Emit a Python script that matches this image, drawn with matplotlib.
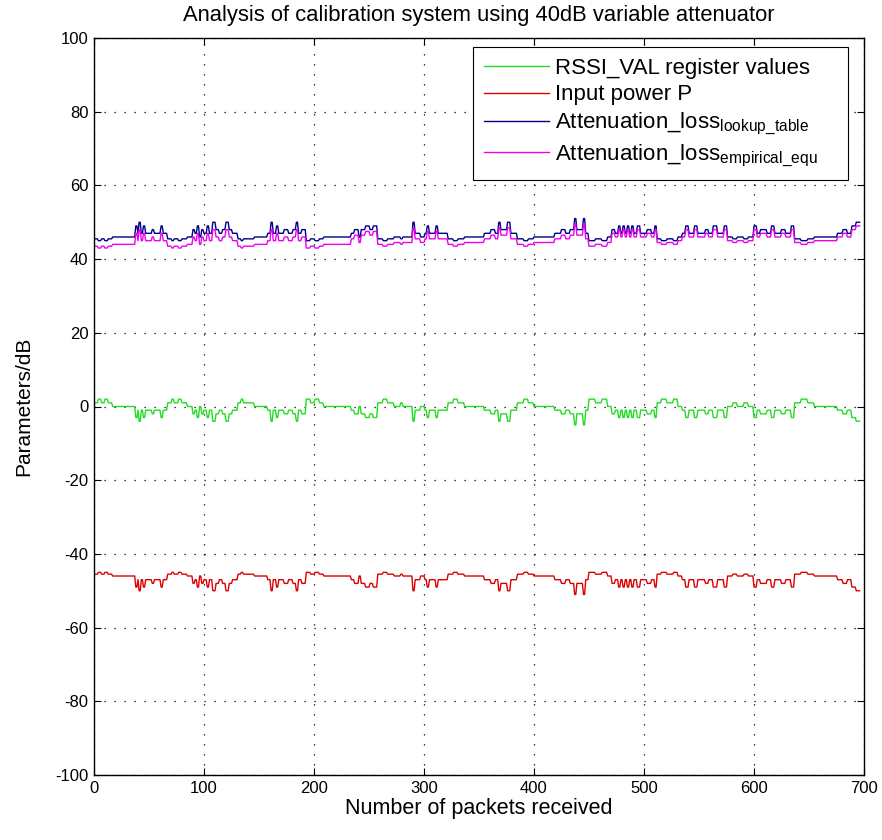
import numpy as np
import matplotlib
matplotlib.use("Agg")
import matplotlib.pyplot as plt

plt.rcParams['font.family'] = ['Liberation Sans', 'DejaVu Sans']
plt.rcParams['mathtext.fontset'] = 'custom'
plt.rcParams['mathtext.rm'] = 'Liberation Sans'
plt.rcParams['mathtext.it'] = 'Liberation Sans'
plt.rcParams['axes.unicode_minus'] = False

# Run lengths (number of consecutive packets holding each level)
run_lengths = [3,3,3,3,4, 21, 2,1,2,2,2,6,2,6,2,4, 4,2,4,3,5, 5,
               2,2,2,2,2,3,2,3,3,3,3,3,3,3,5, 3,2,10, 12,
               3,2,3,2,5,4,4,3,2,3,4, 4,4,4,4, 25,
               3,4,2,4,4,3,4, 5,4,6, 6,2,9, 2,5,4,2,2,6,2,9, 5,4,6, 18,
               6,4,3,2,6,3,6, 6,4,5, 19, 6,4,4,4,2,6,2,3, 6,6,5, 4,
               3,3,2,2,2,2,2,2,2,3,3,6,4,3,2, 4,5,6,4, 4,
               3,3,5,3,7,3,4,4,6,3, 5,4,6,4,5, 3,3,6,4,3,6,4,5,3,
               6,6,6, 21, 5,4,4,4,4]

rssi_levels = [1,2,1,2,1, 0, -3,-1,-4,-1,-3,-1,-2,-1,-3,-1, 1,2,1,2,1, 0,
               -2,-1,-3,0,-2,-1,-3,-1,-4,-2,-1,-2,-4,-2,-1, 1,2,1, 0,
               -1,-4,-1,-3,-1,-2,-1,-2,-4,-1,-2, 2,1,2,1, 0,
               -1,-2,0,-2,-3,-2,-3, 1,2,1, 0,1,0, -4,-1,0,-1,-3,-1,-3,-1, 1,2,1, 0,
               -1,-2,-1,-4,-2,-4,-1, 1,2,1, 0, -1,-2,-1,-2,-5,-2,-5,-1, 2,1,2, 0,
               -2,-1,-3,-1,-3,-1,-3,-1,-3,-1,-3,-1,-2,-1,-3, 1,2,1,2, 0,
               -1,-3,-1,-3,-1,-2,-1,-3,-1,-3, 0,1,0,1,0, -3,-1,-2,-1,-3,-1,-2,-1,-3,
               1,2,1, 0, -1,-2,-1,-3,-4]

power_levels = [-45.5,-45,-45.5,-45,-45.5, -46, -49,-47,-50,-47,-49,-47,-48,-47,-49,-47,
                -45.5,-45,-45.5,-45,-45.5, -46,
                -48,-47,-49,-46,-48,-47,-49,-47,-50,-48,-47,-48,-50,-48,-47, -45.5,-45,-45.5, -46,
                -47,-50,-47,-49,-47,-48,-47,-48,-50,-47,-48, -45,-45.5,-45,-45.5, -46,
                -47,-48,-46,-48,-49,-48,-49, -45.5,-45,-45.5, -46,-45.5,-46,
                -50,-47,-46,-47,-49,-47,-49,-47, -45.5,-45,-45.5, -46,
                -47,-48,-47,-50,-48,-50,-47, -45.5,-45,-45.5, -46,
                -47,-48,-47,-48,-51,-48,-51,-47, -45,-45.5,-45, -46,
                -48,-47,-49,-47,-49,-47,-49,-47,-49,-47,-49,-47,-48,-47,-49, -45.5,-45,-45.5,-45, -46,
                -47,-49,-47,-49,-47,-48,-47,-49,-47,-49, -46,-45.5,-46,-45.5,-46,
                -49,-47,-48,-47,-49,-47,-48,-47,-49,
                -45.5,-45,-45.5, -46, -47,-48,-47,-49,-50]

lookup_levels = [45.5,45,45.5,45,45.5, 46, 49,47,50,47,49,47,48,47,49,47,
                 45.5,45,45.5,45,45.5, 46,
                 48,47,49,46,48,47,49,47,50,48,47,48,50,48,47, 45.5,45,45.5, 46,
                 47,50,47,49,47,48,47,48,50,47,48, 45,45.5,45,45.5, 46,
                 47,48,46,48,49,48,49, 45.5,45,45.5, 46,45.5,46,
                 50,47,46,47,49,47,49,47, 45.5,45,45.5, 46,
                 47,48,47,50,48,50,47, 45.5,45,45.5, 46,
                 47,48,47,48,51,48,51,47, 45,45.5,45, 46,
                 48,47,49,47,49,47,49,47,49,47,49,47,48,47,49, 45.5,45,45.5,45, 46,
                 47,49,47,49,47,48,47,49,47,49, 46,45.5,46,45.5,46,
                 49,47,48,47,49,47,48,47,49,
                 45.5,45,45.5, 46, 47,48,47,49,50]

empirical_levels = [43.5,43,43.5,43,43.5, 44, 47,45,48,45,47,45,46,45,47,45,
                    43.5,43,43.5,43,43.5, 44,
                    46,45,47,44,46,45,47,45,48,46,45,46,48,46,45, 43.5,43,43.5, 44,
                    45,48,45,47,45,46,45,46,48,45,46, 43,43.5,43,43.5, 44,
                    45.5,46.5,44.5,46.5,47.5,46.5,47.5, 44,43.5,44, 44.5,44,44.5,
                    48.5,45.5,44.5,45.5,47.5,45.5,47.5,45.5, 44,43.5,44, 44.5,
                    45.5,46.5,45.5,48.5,46.5,48.5,45.5, 44,43.5,44, 44.5,
                    45.5,46.5,45.5,46.5,49.5,46.5,49.5,45.5, 43.5,44,43.5, 44.5,
                    47,46,48,46,48,46,48,46,48,46,48,46,47,46,48, 44.5,44,44.5,44, 45,
                    46,48,46,48,46,47,46,48,46,48, 45,44.5,45,44.5,45,
                    48,46,47,46,48,46,47,46,48,
                    44.5,44,44.5, 45, 46,47,46,48,49]

labels = ['RSSI_VAL register values', 'Input power P',
          r'Attenuation_loss$_{\mathrm{lookup\_table}}$',
          r'Attenuation_loss$_{\mathrm{empirical\_equ}}$']
colors = ['#22dd22', '#dd0000', '#000088', '#ee00ee']

series = [rssi_levels, power_levels, lookup_levels, empirical_levels]

fig = plt.figure(figsize=(8.82, 8.4), dpi=100)
ax = fig.add_axes([94/882, 65/840, 770/882, 737/840])

packets = np.arange(1, sum(run_lengths) + 1)
for vals, lab, col in zip(series, labels, colors):
    y = np.repeat(np.asarray(vals, dtype=float), run_lengths)
    ax.plot(packets, y, color=col, lw=1.0, label=lab)

ax.set_xlim(0, 700)
ax.set_ylim(-100, 100)
ax.set_xticks(np.arange(0, 701, 100))
ax.set_yticks(np.arange(-100, 101, 20))
ax.grid(True, linestyle=(0, (1, 7)), color='black', lw=0.9)
ax.tick_params(direction='in', top=True, right=True, labelsize=12, length=5, width=0.8, pad=4)
for s in ax.spines.values():
    s.set_linewidth(1.0)
ax.set_xlabel('Number of packets received', fontsize=15.5, labelpad=2)
ax.set_ylabel('Parameters/dB', fontsize=15, labelpad=16)
ax.set_title('Analysis of calibration system using 40dB variable attenuator', fontsize=15.8, pad=12)

x0 = (473 - 94) / 770
w = (848 - 473) / 770
top = (775 - 47) / 737
leg = ax.legend(loc='upper left', bbox_to_anchor=(x0, top - 0.2, w, 0.2), mode='expand',
                borderaxespad=0, fontsize=16, fancybox=False, framealpha=1,
                edgecolor='black', handlelength=2.9, handletextpad=0.3,
                labelspacing=0.24, borderpad=0.5)
leg.get_frame().set_linewidth(0.8)

fig.savefig('out.png', dpi=100)
